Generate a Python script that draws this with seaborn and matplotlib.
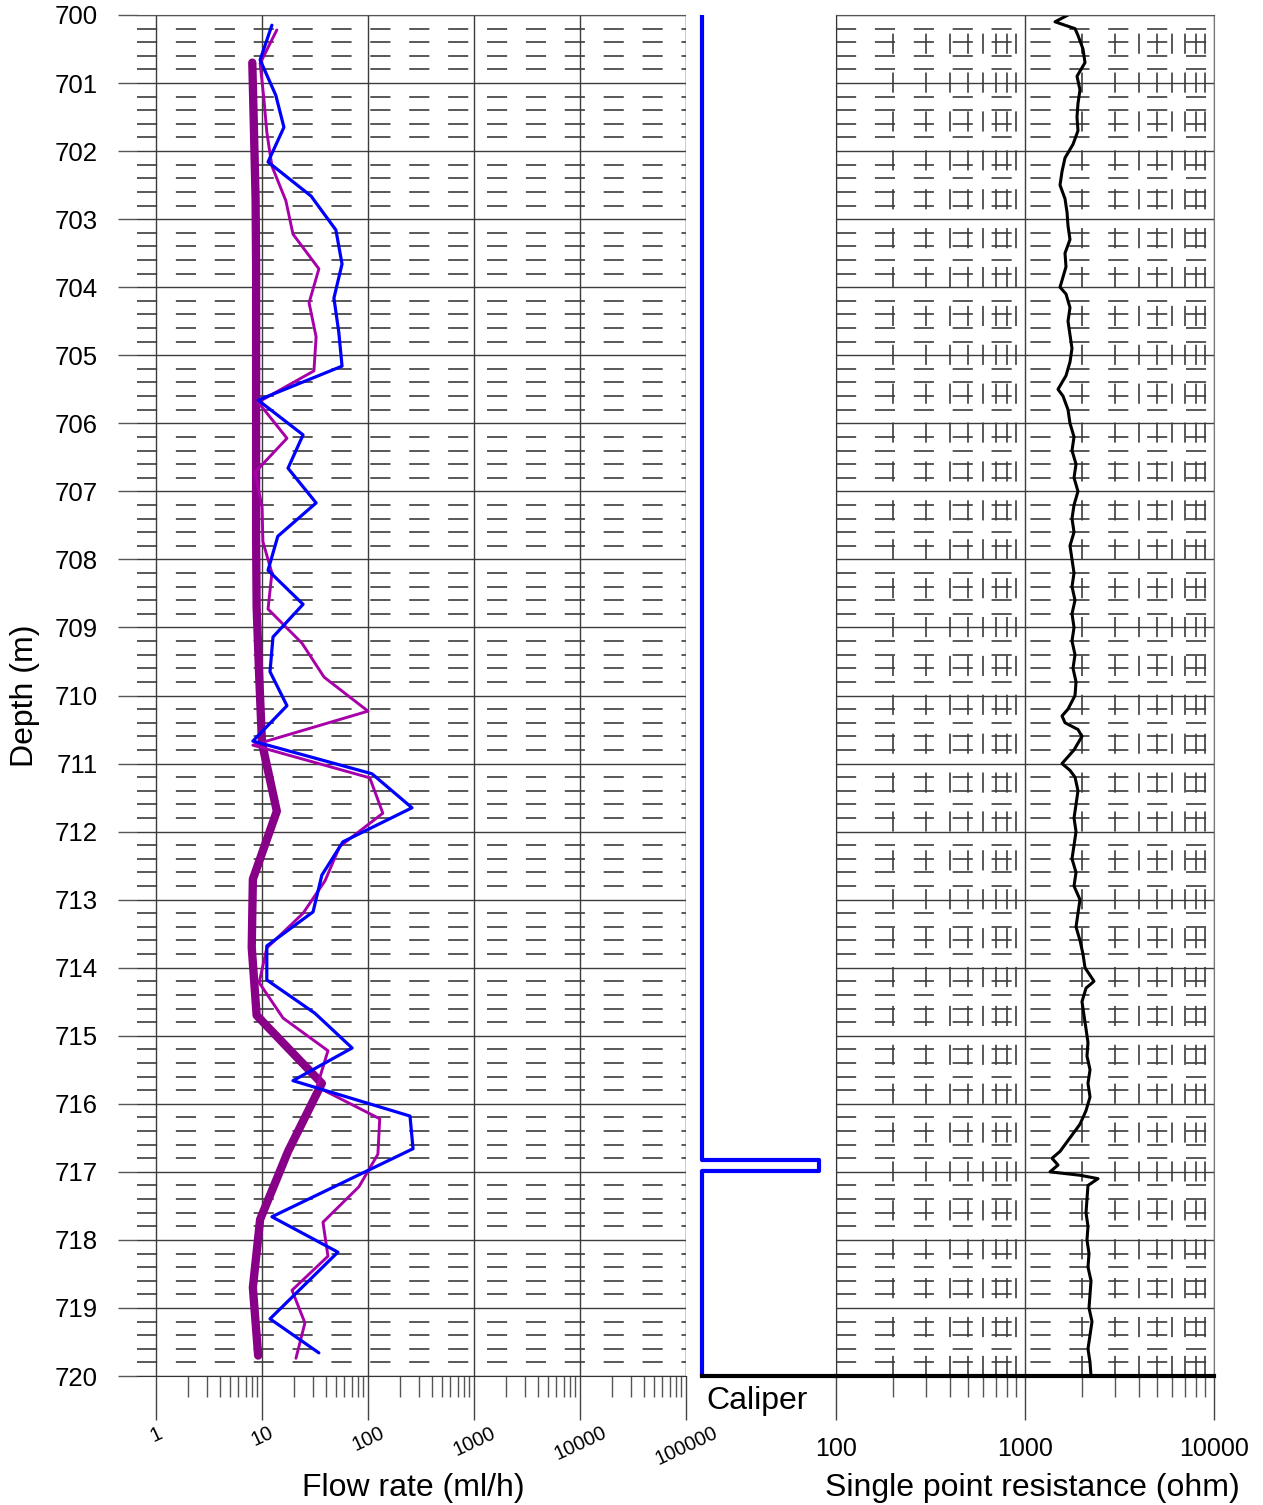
import matplotlib
matplotlib.use('Agg')
import matplotlib.pyplot as plt
import matplotlib.ticker as mticker
import seaborn as sns
import numpy as np

# flow logs (depth in m, flow in ml/h)
depth_blue = [700.15, 700.66, 701.18, 701.65, 702.16, 702.66, 703.16, 703.66, 704.16, 704.66,
              705.16, 705.66, 706.17, 706.66, 707.17, 707.66, 708.16, 708.66, 709.14, 709.65,
              710.15, 710.67, 711.15, 711.65, 712.15, 712.64, 713.18, 713.68, 714.18, 714.67,
              715.18, 715.66, 716.18, 716.66, 717.66, 718.18, 719.16, 719.66]
flow_blue = [12.4, 9.6, 13.5, 16.1, 11.4, 29.0, 49.8, 56.9, 47.7, 53.0,
             56.9, 9.2, 24.4, 17.6, 32.4, 14.1, 11.4, 24.4, 12.7, 11.9,
             17.2, 8.2, 109, 260, 58, 36.7, 30.3, 11.1, 11.1, 31.6,
             70.8, 19.6, 249, 266, 12.4, 52, 11.9, 34.4]

depth_mag = [700.22, 700.71, 701.22, 701.72, 702.22, 702.73, 703.22, 703.73, 704.23, 704.73,
             705.23, 705.69, 706.22, 706.72, 707.23, 707.74, 708.2, 708.73, 709.23, 709.73,
             710.23, 710.73, 711.21, 711.73, 712.22, 712.72, 713.2, 713.71, 714.22, 714.74,
             715.22, 715.75, 716.22, 716.74, 717.22, 717.74, 718.24, 718.74, 719.22, 719.74]
flow_mag = [13.8, 9.6, 10.4, 11.1, 12.4, 16.8, 19.6, 34.4, 27.8, 32.4,
            30.9, 9.2, 17.2, 8.6, 10.0, 10.2, 12.4, 11.4, 23.8, 38.5,
            100, 8.2, 104, 138, 54, 39.4, 24.4, 11.1, 9.4, 15.8,
            41.9, 33, 129, 124, 82, 37.6, 41.9, 19.2, 25.4, 20.9]

depth_thick = [700.7, 701.7, 702.7, 703.7, 704.7, 705.7, 706.7, 707.7, 708.7, 709.7,
               710.7, 711.7, 712.7, 713.7, 714.7, 715.7, 716.7, 717.7, 718.7, 719.7]
flow_thick = [8.1, 8.4, 8.7, 8.8, 8.8, 8.8, 8.8, 8.8, 8.9, 9.4,
              10.0, 13.8, 8.2, 8.0, 8.9, 36.7, 17.6, 9.6, 8.2, 9.2]

# caliper (mm)
depth_cal = [700.0, 716.83, 716.83, 716.99, 716.99, 720.0]
caliper = [76.6, 76.6, 96.1, 96.1, 76.6, 76.6]

# single point resistance (ohm)
depth_res = [700.0, 700.1, 700.2, 700.3, 700.5, 700.7, 700.9, 701.1, 701.3, 701.5,
             701.7, 701.9, 702.1, 702.3, 702.5, 702.7, 702.9, 703.1, 703.3, 703.5,
             703.7, 703.9, 704.0, 704.1, 704.3, 704.5, 704.7, 704.9, 705.1, 705.3,
             705.5, 705.6, 705.8, 706.0, 706.2, 706.4, 706.6, 706.8, 707.0, 707.2,
             707.4, 707.6, 707.8, 708.0, 708.2, 708.4, 708.6, 708.8, 709.0, 709.2,
             709.4, 709.6, 709.8, 710.0, 710.2, 710.3, 710.4, 710.5, 710.6, 710.8,
             711.0, 711.1, 711.2, 711.4, 711.6, 711.8, 712.0, 712.2, 712.4, 712.6,
             712.8, 713.0, 713.2, 713.4, 713.6, 713.8, 714.0, 714.2, 714.3, 714.5,
             714.7, 714.9, 715.1, 715.3, 715.5, 715.7, 715.9, 716.1, 716.3, 716.5,
             716.7, 716.8, 716.9, 717.0, 717.05, 717.1, 717.2, 717.4, 717.6, 717.8,
             718.0, 718.2, 718.4, 718.6, 718.8, 719.0, 719.2, 719.4, 719.6, 719.8, 720.0]
resistance = [1689, 1441, 1839, 1907, 2027, 2077, 1884, 1954, 1907, 1884,
              1907, 1795, 1628, 1570, 1532, 1628, 1669, 1689, 1730, 1628,
              1648, 1570, 1532, 1648, 1730, 1689, 1730, 1773, 1730, 1648,
              1495, 1589, 1689, 1730, 1817, 1773, 1862, 1817, 1907, 1817,
              1773, 1817, 1730, 1773, 1817, 1773, 1839, 1773, 1817, 1773,
              1839, 1795, 1862, 1839, 1689, 1570, 1628, 1907, 2002, 1817,
              1570, 1730, 1839, 1907, 1862, 1817, 1862, 1817, 1773, 1862,
              1817, 1954, 1907, 1862, 1954, 2027, 2077, 2318, 2103, 2002,
              2052, 2103, 2154, 2128, 2208, 2154, 2208, 2103, 1954, 1730,
              1532, 1390, 1495, 1356, 1954, 2434, 2154, 2128, 2103, 2154,
              2128, 2181, 2154, 2235, 2208, 2181, 2262, 2208, 2154, 2208, 2235]

depth_ticks = list(range(700, 721))
flow_ticks = [1, 10, 100, 1000, 10000, 100000]
res_ticks = [100, 1000, 10000]

sns.set_style('white')
plt.rcParams['font.family'] = ['Liberation Sans', 'DejaVu Sans']
plt.rcParams['lines.scale_dashes'] = False
plt.rcParams['text.color'] = 'black'
plt.rcParams['axes.labelcolor'] = 'black'
plt.rcParams['xtick.labelcolor'] = 'black'
plt.rcParams['ytick.labelcolor'] = 'black'

W, H = 1263, 1505
fig = plt.figure(figsize=(W / 100, H / 100), dpi=100)

def px_axes(x0, x1, y0=15, y1=1376):
    return fig.add_axes([x0 / W, (H - y1) / H, (x1 - x0) / W, (y1 - y0) / H])

def minor_log(ticks):
    return [m * t for t in ticks[:-1] for m in range(2, 10)]

ax = px_axes(137, 686)
ax_cal = px_axes(686, 836)
ax_r = px_axes(836, 1214)

dash = (0, (14.5, 13.5))
grid_col = '#3c3c3c'

# ---- flow panel
sns.lineplot(x=flow_thick, y=depth_thick, sort=False, estimator=None, color='#880088',
             lw=6, ax=ax, solid_capstyle='round', solid_joinstyle='round')
sns.lineplot(x=flow_mag, y=depth_mag, sort=False, estimator=None, color='#A800A8', lw=2.1, ax=ax)
sns.lineplot(x=flow_blue, y=depth_blue, sort=False, estimator=None, color='#0000FF', lw=2.3, ax=ax)
ax.set_xscale('log')
ax.set_xlim(10 ** (-19 / 106), 1e5)
ax.set_ylim(720, 700)
ax.set_yticks(depth_ticks)
ax.set_yticklabels([str(d) for d in depth_ticks])
ax.yaxis.set_minor_locator(mticker.MultipleLocator(0.2))
ax.set_xticks(flow_ticks)
ax.set_xticklabels([str(t) for t in flow_ticks], rotation=25, ha='center')
ax.xaxis.set_minor_locator(mticker.FixedLocator(minor_log(flow_ticks)))
ax.xaxis.set_minor_formatter(mticker.NullFormatter())
ax.set_axisbelow(True)
ax.grid(which='major', color=grid_col, lw=1.0)
ax.grid(which='minor', axis='y', color=grid_col, lw=1.2, linestyle=dash)
ax.tick_params(axis='y', which='major', direction='out', length=14, width=1, color='#555',
               labelsize=18.5, pad=14, left=True)
ax.tick_params(axis='y', which='minor', length=0)
ax.tick_params(axis='x', which='major', direction='out', length=32, width=1, color='#444',
               labelsize=14.5, pad=2, bottom=True)
ax.tick_params(axis='x', which='minor', direction='out', length=15, width=1, color='#555', bottom=True)
ax.spines['left'].set_visible(False)
ax.spines['top'].set_color('#555')
ax.spines['right'].set_color('black')
ax.spines['bottom'].set_color('#333')
ax.set_xlabel('Flow rate (ml/h)', fontsize=23)
ax.xaxis.set_label_coords((413 - 137) / 549, -0.0715)
ax.set_ylabel('Depth (m)', fontsize=23)
ax.yaxis.set_label_coords((40 - 137) / 549, 0.5)

# ---- caliper panel
sns.lineplot(x=caliper, y=depth_cal, sort=False, estimator=None, color='#0000FF', lw=3,
             ax=ax_cal, solid_capstyle='round', solid_joinstyle='round')
ax_cal.set_xlim(74, 99)
ax_cal.set_ylim(720, 700)
ax_cal.set_xticks([])
ax_cal.set_yticks([])
for s in ['left', 'right', 'top']:
    ax_cal.spines[s].set_visible(False)
ax_cal.spines['bottom'].set_bounds(caliper[-1], 99)
ax_cal.spines['bottom'].set_linewidth(3)
ax_cal.spines['bottom'].set_color('black')
ax_cal.set_xlabel('Caliper', fontsize=23)
ax_cal.xaxis.set_label_coords(0.473, -0.0075)
ax_cal.set_ylabel('')

# ---- resistance panel
sns.lineplot(x=resistance, y=depth_res, sort=False, estimator=None, color='black', lw=2.2, ax=ax_r)
ax_r.set_xscale('log')
ax_r.set_xlim(100, 10000)
ax_r.set_ylim(720, 700)
ax_r.set_yticks(depth_ticks)
ax_r.yaxis.set_minor_locator(mticker.MultipleLocator(0.2))
ax_r.set_yticklabels([])
ax_r.set_xticks(res_ticks)
ax_r.set_xticklabels([str(t) for t in res_ticks])
ax_r.xaxis.set_minor_locator(mticker.FixedLocator(minor_log(res_ticks)))
ax_r.xaxis.set_minor_formatter(mticker.NullFormatter())
ax_r.set_axisbelow(True)
ax_r.grid(which='major', color=grid_col, lw=1.0)
ax_r.grid(which='minor', axis='both', color=grid_col, lw=1.2, linestyle=dash)
ax_r.tick_params(axis='y', which='both', length=0)
ax_r.tick_params(axis='x', which='major', direction='out', length=32, width=1, color='#444',
                 labelsize=18, pad=12, bottom=True)
ax_r.tick_params(axis='x', which='minor', direction='out', length=15, width=1, color='#555', bottom=True)
ax_r.spines['left'].set_color('#333')
ax_r.spines['right'].set_color('#777')
ax_r.spines['top'].set_color('#555')
ax_r.spines['bottom'].set_color('black')
ax_r.spines['bottom'].set_linewidth(3)
ax_r.set_xlabel('Single point resistance (ohm)', fontsize=23)
ax_r.xaxis.set_label_coords((1032 - 836) / 378, -0.0715)
ax_r.set_ylabel('')

fig.savefig('out.png', dpi=100)
